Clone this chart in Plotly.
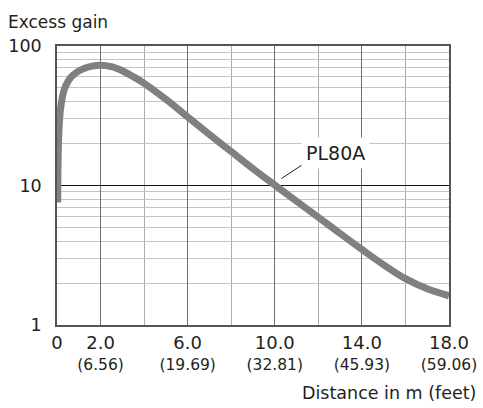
import plotly.graph_objects as go
import math

# Data
distance_m = [0.032, 0.041, 0.06, 0.092, 0.138, 0.206, 0.298, 0.436, 0.642, 0.917, 1.24, 1.56,
              2.0, 2.5, 3.0, 3.5, 4.0, 5.0, 6.0, 7.0, 8.0, 9.0, 10.0, 11.0, 12.0, 13.0,
              14.0, 15.0, 16.0, 17.0, 18.0]
excess_gain = [7.55, 12.0, 18.2, 25.3, 32.4, 39.6, 46.7, 53.3, 59.8, 65.0, 68.9, 71.4,
               72.9, 71.1, 66.4, 60.3, 54.0, 41.5, 31.0, 23.2, 17.5, 13.2, 10.07, 7.71, 5.92, 4.53,
               3.48, 2.70, 2.15, 1.82, 1.62]

x_tick_vals = [0, 2, 6, 10, 14, 18]
x_tick_m = ["0", "2.0", "6.0", "10.0", "14.0", "18.0"]
x_tick_ft = ["", "(6.56)", "(19.69)", "(32.81)", "(45.93)", "(59.06)"]
x_minor_vals = [4, 8, 12, 16]
y_tick_vals = [1, 10, 100]
y_tick_text = ["1", "10", "100"]
y_minor_vals = [2, 3, 4, 5, 6, 7, 8, 9, 20, 30, 40, 50, 60, 70, 80, 90]

series_label = "PL80A"
label_pos = (12.78, 17.2)          # (distance, gain) of label centre
leader_x = [10.3, 11.3]
leader_y = [11.2, 14.2]

FONT = "DejaVu Sans"
TXT = "#231f20"

ticktext = []
for m, ft in zip(x_tick_m, x_tick_ft):
    if ft:
        ticktext.append(f"<span style='font-size:18px'>{m}</span><br>{ft}")
    else:
        ticktext.append(f"<span style='font-size:18px'>{m}</span>")

fig = go.Figure()
fig.add_trace(go.Scatter(
    x=distance_m, y=excess_gain, mode="lines",
    line=dict(color="#7f8083", width=7, shape="spline", smoothing=1.0),
    hoverinfo="skip", showlegend=False,
))
fig.add_trace(go.Scatter(
    x=leader_x, y=leader_y, mode="lines",
    line=dict(color="#231f20", width=1), hoverinfo="skip", showlegend=False,
))

fig.add_annotation(
    x=label_pos[0], y=math.log10(label_pos[1]), xref="x", yref="y",
    text=series_label, showarrow=False,
    font=dict(family=FONT, size=19, color=TXT),
    bgcolor="white", borderpad=4,
)
fig.add_annotation(
    x=6, y=22, xref="paper", yref="paper", xanchor="left", yanchor="middle",
    text="Excess gain", showarrow=False,
    font=dict(family=FONT, size=17, color=TXT),
)
fig.add_annotation(
    x=478, y=393, xref="paper", yref="paper", xanchor="right", yanchor="middle",
    text="Distance in m (feet)", showarrow=False,
    font=dict(family=FONT, size=17.5, color=TXT),
)

fig.update_layout(
    width=483, height=408,
    margin=dict(l=57, r=34, t=46, b=83, autoexpand=False),
    paper_bgcolor="white", plot_bgcolor="white",
    font=dict(family=FONT, color=TXT),
    xaxis=dict(
        range=[0, 18], tickmode="array", tickvals=x_tick_vals, ticktext=ticktext,
        tickfont=dict(family=FONT, size=15.5, color=TXT),
        showgrid=True, gridcolor="#6d6d6d", gridwidth=1.3,
        showline=True, linecolor="#555555", linewidth=1.5, mirror=True,
        ticks="", zeroline=False, automargin=False, ticklabelstandoff=4,
        minor=dict(tickvals=x_minor_vals, showgrid=True, gridcolor="#adadad", gridwidth=1.2, ticks=""),
        fixedrange=True,
    ),
    yaxis=dict(
        type="log", range=[0, 2], tickmode="array", tickvals=y_tick_vals,
        ticktext=y_tick_text,
        tickfont=dict(family=FONT, size=17.5, color=TXT),
        showgrid=True, gridcolor="#111111", gridwidth=1,
        showline=True, linecolor="#555555", linewidth=1.5, mirror=True,
        ticks="", zeroline=False, ticklabelstandoff=10, automargin=False,
        minor=dict(tickvals=y_minor_vals, showgrid=True, gridcolor="#c4c4c4", gridwidth=1.3, ticks=""),
        fixedrange=True,
    ),
)

# paper-coordinate annotations given in pixels -> convert
pw = 483 - 57 - 34
ph = 408 - 46 - 83
for ann in fig.layout.annotations:
    if ann.xref == "paper":
        ann.x = (ann.x - 57) / pw
        ann.y = (408 - 83 - ann.y) / ph

fig.write_html(
    "out.html",
    config={"displayModeBar": False},
    post_script="document.body.style.margin='0';document.body.style.overflow='hidden';",
)
